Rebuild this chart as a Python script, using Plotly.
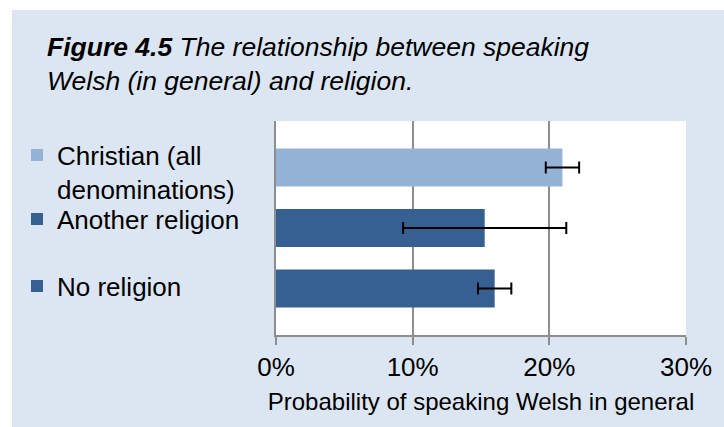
import plotly.graph_objects as go

# ---- data ----
categories = ["Christian (all denominations)", "Another religion", "No religion"]
legend_names = ["Christian (all<br>denominations)", "Another religion", "No religion"]
probability = [0.2096, 0.1527, 0.1600]
error = [0.0122, 0.0597, 0.0122]
bar_colors = ["#95B3D7", "#366092", "#366092"]
x_ticks = [0, 0.1, 0.2, 0.3]
x_tick_labels = ["0%", "10%", "20%", "30%"]

W, H = 724, 427
L, R, T, B = 276, 38, 121, 92
FONT = "Liberation Sans, Arial, sans-serif"

fig = go.Figure()
legend_ids = ["legend", "legend2", "legend3"]
for cat, name, val, err, col, lg in zip(categories, legend_names, probability, error, bar_colors, legend_ids):
    fig.add_trace(go.Bar(
        y=[cat], x=[val], orientation="h", name=name,
        marker=dict(color=col, line=dict(width=0)),
        width=0.628,
        error_x=dict(type="data", array=[err], color="black", thickness=2, width=6),
        legend=lg, showlegend=True,
    ))

pw = W - L - R
ph = H - T - B
def px(x):
    return (x - L) / pw
def py(y):
    return (H - B - y) / ph

legend_common = dict(
    xref="container", yref="container", xanchor="left",
    bgcolor="rgba(0,0,0,0)", borderwidth=0,
    font=dict(family=FONT, size=26, color="black"),
)
LX = 17 / W

fig.update_layout(
    width=W, height=H,
    margin=dict(l=L, r=R, t=T, b=B, pad=0),
    paper_bgcolor="white",
    plot_bgcolor="white",
    barmode="overlay",
    font=dict(family=FONT, size=26, color="black"),
    title=dict(
        text="<b><i>Figure 4.5</i></b><i> The relationship between speaking<br>Welsh (in general) and religion.</i>",
        x=47 / W, xanchor="left", xref="container",
        y=1 - 56 / H, yanchor="top", yref="container",
        font=dict(family=FONT, size=26.5, color="black"),
    ),
    legend=dict(**legend_common, x=LX, y=1 - 131.5 / H, yanchor="top", valign="top"),
    legend2=dict(**legend_common, x=LX, y=1 - 219 / H, yanchor="middle"),
    legend3=dict(**legend_common, x=LX, y=1 - 286 / H, yanchor="middle"),
    xaxis=dict(
        range=[0, 0.3], tickvals=x_ticks, ticktext=x_tick_labels,
        showgrid=True, gridcolor="#8E8E8E", gridwidth=1.5,
        zeroline=False,
        showline=True, linecolor="#8E8E8E", linewidth=1.5,
        ticks="outside", ticklen=8, tickcolor="#8E8E8E", tickwidth=1.5,
        tickfont=dict(family=FONT, size=26, color="black"),
        ticklabelstandoff=0,
        title=dict(text="Probability of speaking Welsh in general",
                   font=dict(family=FONT, size=24, color="black"), standoff=12),
        fixedrange=True,
    ),
    yaxis=dict(
        categoryorder="array", categoryarray=categories[::-1],
        range=[-0.768, 2.768],
        showticklabels=False, showgrid=False, zeroline=False,
        showline=True, linecolor="#8E8E8E", linewidth=1.5,
        ticks="", fixedrange=True,
    ),
    shapes=[
        # light-blue panel behind the whole chart
        dict(type="rect", xref="paper", yref="paper", layer="below",
             x0=px(12), x1=px(W + 2), y0=py(H + 2), y1=py(10),
             fillcolor="#DCE6F2", line=dict(width=0)),
        # white plotting area on top of the panel
        dict(type="rect", xref="paper", yref="paper", layer="below",
             x0=0, x1=1, y0=0, y1=1,
             fillcolor="white", line=dict(width=0)),
    ],
)

fig.write_html(
    "out.html",
    config={"displayModeBar": False},
    post_script="document.body.style.margin='0';document.body.style.overflow='hidden';",
)
